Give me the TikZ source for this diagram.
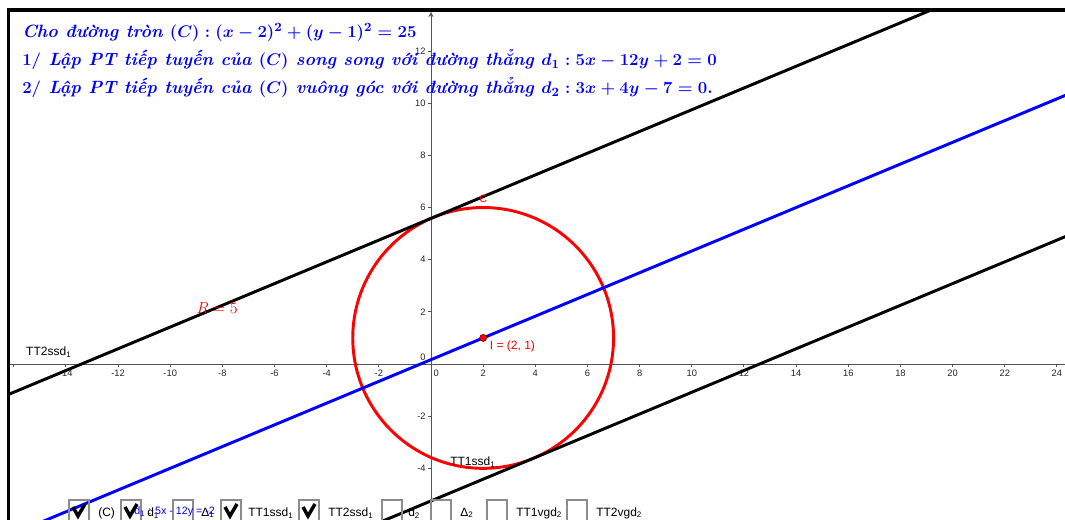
\documentclass[tikz,border=0pt]{standalone}
\usepackage{fontspec}
\newfontfamily\ggbfont{Liberation Sans}
\definecolor{axisgray}{HTML}{555555}
\definecolor{boxgray}{HTML}{8C8C8C}
\definecolor{dotred}{HTML}{9A0000}
\begin{document}
\begin{tikzpicture}[x=0.75pt,y=-0.75pt,
    ggb/.style={font=\ggbfont\fontsize{9}{10}\selectfont,inner sep=0pt},
    ticklbl/.style={font=\ggbfont\fontsize{7}{8}\selectfont,text=black!85,inner sep=1.5pt},
    hdr/.style={anchor=base west,inner sep=0pt,scale=1.05,text=blue,font=\fontsize{12.7}{15}\selectfont\bfseries\itshape\boldmath},
    tline/.style={line width=2.2pt,line cap=round},
    cbox/.style={draw=boxgray,line width=0.9pt},
    chk/.style={line width=2.6pt,line join=miter}]
    \useasboundingbox (0,0) rectangle (1065,519);
    \begin{scope}
        \clip (9,10) rectangle (1065,519);
        \begin{scope}[shift={(431,364)},x=19.56pt,y=19.56pt]
            \draw [axisgray,line width=0.75pt] (-16.3,0) -- (24.4,0);
            \draw [axisgray,line width=0.75pt,-stealth] (0,-6) -- (0,13.5);
            \foreach \k in {-16,-14,...,24} \draw [axisgray,line width=0.75pt] (\k,0) -- (\k,-0.12);
            \foreach \k in {-4,-2,2,4,...,12} \draw [axisgray,line width=0.75pt] (0,\k) -- (-0.12,\k);
            \foreach \k in {-14,-12,...,-2,2,4,...,24} \path (\k,-0.15) node (xl\k) [anchor=north,ticklbl] {\k};
            \path (0.2,-0.15) node (xlzero) [anchor=north,ticklbl] {0};
            \foreach \k in {-4,-2,2,4,...,12} \path (-0.12,\k) node (yl\k) [anchor=east,ticklbl] {\k};
            \path (-0.12,0.05) node (ylzero) [anchor=south east,ticklbl] {0};
            \draw [red,line width=2.2pt] (2,1) circle (5);
            \draw [tline] (-17,{(5*(-17)+67)/12}) -- (25,{(5*25+67)/12});
            \draw [tline] (-17,{(5*(-17)-63)/12}) -- (25,{(5*25-63)/12});
            \draw [tline,blue] (-17,{(5*(-17)+2)/12}) -- (25,{(5*25+2)/12});
            \coordinate (I) at (2,1);
            \filldraw [fill=red,draw=dotred,line width=0.6pt] (I) circle (2.6pt);
            \path (2.25,0.69) node (Ilbl) [anchor=west,ggb,text=red] {I = (2, 1)};
            \path (2,6.33) node (Clbl) [ggb,text=red,font=\ggbfont\fontsize{8}{9}\selectfont] {C};
            \path (-8.2,2.15) node (Rlbl) [text=red,font=\fontsize{12}{14}\selectfont] {$R=5$};
            \path (-15.53,0.46) node (TT2lbl) [anchor=west,ggb] {TT2ssd\textsubscript{1}};
            \path (0.73,-3.76) node (TT1lbl) [anchor=west,ggb] {TT1ssd\textsubscript{1}};
        \end{scope}
    \end{scope}
    \draw [line width=2.3pt] (8.5,530) -- (8.5,10) -- (1075,10);
    \path (22,37.5) node (line0) [hdr] {Cho đường tròn $(C):(x-2)^2+(y-1)^2=25$};
    \path (22,65.5) node (line1) [hdr] {$1/$ Lập PT tiếp tuyến của $(C)$ song song với đường thẳng $d_1:5x-12y+2=0$};
    \path (22,93.5) node (line2) [hdr] {$2/$ Lập PT tiếp tuyến của $(C)$ vuông góc với đường thẳng $d_2:3x+4y-7=0.$};
    \foreach \bx in {69,121,173,221,299,382,431,487,567} \draw [cbox] (\bx,525) -- (\bx,500) -- (\bx+20,500) -- (\bx+20,525);
    \foreach \bx in {69,121,221,299} \draw [chk] (\bx+4,507) -- (\bx+9,516) -- (\bx+16,504);
    \path (98,513) node (lblC) [anchor=west,ggb] {(C)};
    \path (147,513) node (lbld1) [anchor=west,ggb] {d\textsubscript{1}};
    \path (201,513) node (lblD1) [anchor=west,ggb] {Δ\textsubscript{1}};
    \path (248,513) node (lblTT1) [anchor=west,ggb] {TT1ssd\textsubscript{1}};
    \path (328,513) node (lblTT2) [anchor=west,ggb] {TT2ssd\textsubscript{1}};
    \path (408,513) node (lbld2) [anchor=west,ggb] {d\textsubscript{2}};
    \path (460,513) node (lblD2) [anchor=west,ggb] {Δ\textsubscript{2}};
    \path (516,513) node (lblTT1v) [anchor=west,ggb] {TT1vgd\textsubscript{2}};
    \path (596,513) node (lblTT2v) [anchor=west,ggb] {TT2vgd\textsubscript{2}};
    \path (134,512) node (d1eq) [anchor=west,ggb,text=blue,font=\ggbfont\fontsize{8}{9}\selectfont] {d\textsubscript{1} : 5x - 12y = -2};
\end{tikzpicture}
\end{document}
